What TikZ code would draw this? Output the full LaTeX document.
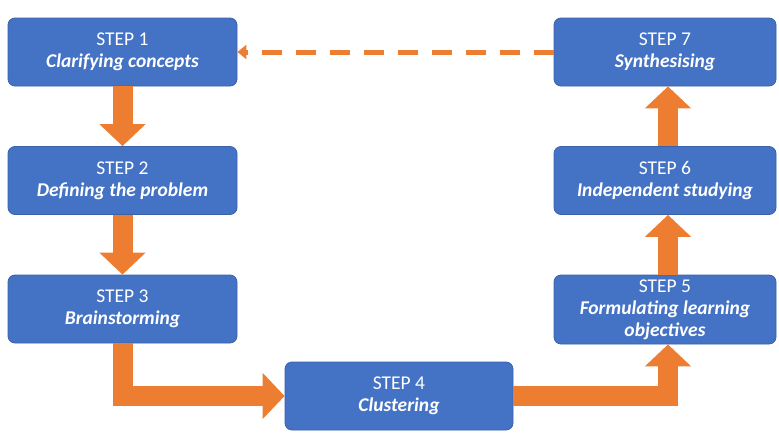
\documentclass[tikz,border=0pt]{standalone}
\usepackage{fontspec}
\setmainfont{Carlito}
\usetikzlibrary{arrows.meta}
\definecolor{boxblue}{HTML}{4472C4}
\definecolor{boxedge}{HTML}{3A62A8}
\definecolor{arrowor}{HTML}{ED7D31}
\begin{document}
\begin{tikzpicture}[x=1pt,y=1pt,
  stepbox/.style={rectangle, rounded corners=7pt, fill=boxblue, draw=boxedge, line width=0.8pt,
    text=white, align=center, inner sep=0pt, minimum height=68pt,
    font=\fontsize{19.5}{22}\selectfont},
  blockarrow/.style={draw=arrowor, line width=20pt, line join=miter,
    -{Triangle[length=22pt,width=45pt]}},
  backarrow/.style={draw=arrowor, line width=5pt, dash pattern=on 20pt off 14pt,
    -{Triangle[length=9pt,width=14pt]}}
]
\useasboundingbox (0,0) rectangle (779,-434);
\fill[white] (0,0) rectangle (779,-434);
\node[stepbox, minimum width=229pt] (n1) at (122.5,-52) {STEP 1\\\textbf{\textit{Clarifying concepts}}};
\node[stepbox, minimum width=229pt] (n2) at (122.5,-180.5) {STEP 2\\\textbf{\textit{Defining the problem}}};
\node[stepbox, minimum width=229pt] (n3) at (122.5,-309) {STEP 3\\\textbf{\textit{Brainstorming}}};
\node[stepbox, minimum width=228pt] (n4) at (399,-396) {STEP 4\\\textbf{\textit{Clustering}}};
\node[stepbox, minimum width=222pt, minimum height=69pt] (n5) at (665,-309.5) {STEP 5\\\textbf{\textit{Formulating learning}}\\\textbf{\textit{objectives}}};
\node[stepbox, minimum width=222pt] (n6) at (665,-180.5) {STEP 6\\\textbf{\textit{Independent studying}}};
\node[stepbox, minimum width=222pt] (n7) at (665,-52) {STEP 7\\\textbf{\textit{Synthesising}}};
\draw[blockarrow] (n1.south) -- (n2.north);
\draw[blockarrow] (n2.south) -- (n3.north);
\draw[blockarrow] (n3.south) |- (n4.west);
\draw[blockarrow] (n4.east) -| ([xshift=3pt]n5.south);
\draw[blockarrow] ([xshift=3pt]n5.north) -- ([xshift=3pt]n6.south);
\draw[blockarrow] ([xshift=3pt]n6.north) -- ([xshift=3pt]n7.south);
\draw[backarrow] (n7.west) -- (n1.east);
\end{tikzpicture}
\end{document}
